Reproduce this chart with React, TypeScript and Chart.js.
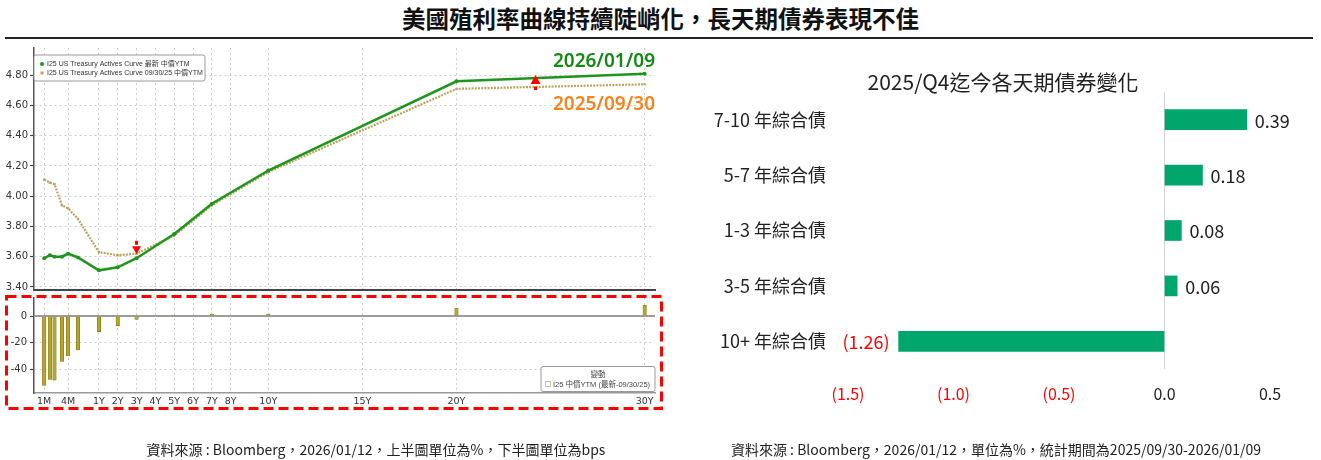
import React, { useEffect, useRef } from "react";
import { Chart, registerables } from "chart.js";

Chart.register(...registerables);

const CJK = '"Noto Sans CJK TC", "Noto Sans", sans-serif';
const BBG = '"DejaVu Sans", "Noto Sans CJK TC", sans-serif';
const LEG = '"Liberation Sans", "Noto Sans CJK TC", sans-serif';
const LATIN = '"Noto Sans", "Noto Sans CJK TC", sans-serif';

// ---------------- data ----------------
const PAGE_TITLE = "美國殖利率曲線持續陡峭化，長天期債券表現不佳";
const LEFT_SOURCE = "資料來源 : Bloomberg，2026/01/12，上半圖單位為%，下半圖單位為bps";
const RIGHT_SOURCE = "資料來源 : Bloomberg，2026/01/12，單位為%，統計期間為2025/09/30-2026/01/09";

const TENOR_LABELS = ["1M", "6W", "2M", "3M", "4M", "6M", "1Y", "2Y", "3Y", "5Y", "7Y", "10Y", "20Y", "30Y"];
const TENOR_YEARS = [1 / 12, 1.5 / 12, 2 / 12, 3 / 12, 4 / 12, 6 / 12, 1, 2, 3, 5, 7, 10, 20, 30];
const CURVE_LATEST = [3.59, 3.61, 3.6, 3.6, 3.62, 3.595, 3.51, 3.53, 3.59, 3.75, 3.95, 4.17, 4.76, 4.81];
const CURVE_0930 = [4.11, 4.09, 4.08, 3.94, 3.92, 3.85, 3.63, 3.61, 3.62, 3.74, 3.94, 4.16, 4.71, 4.74];
const CHANGE_BPS = [-52, -47.5, -48, -34, -30, -25.5, -11.7, -7.2, -2.5, 0.5, 1.5, 1.5, 5.8, 8];

const AXIS_TICK_LABELS = ["1M", "4M", "1Y", "2Y", "3Y", "4Y", "5Y", "6Y", "7Y", "8Y", "10Y", "15Y", "20Y", "30Y"];
const AXIS_TICK_YEARS = [1 / 12, 4 / 12, 1, 2, 3, 4, 5, 6, 7, 8, 10, 15, 20, 30];
const YIELD_TICKS = [3.4, 3.6, 3.8, 4.0, 4.2, 4.4, 4.6, 4.8];
const CHANGE_TICKS = [0, -20, -40];

const LEGEND_TOP = [
  "I25 US Treasury Actives Curve 最新 中價YTM",
  "I25 US Treasury Actives Curve 09/30/25 中價YTM",
];
const LEGEND_BOTTOM = ["變動", "I25 中價YTM (最新-09/30/25)"];
const LATEST_DATE = "2026/01/09";
const PREV_DATE = "2025/09/30";
const ARROW_TENORS = [3, 24.2];
const ARROW_DIRS = ["down", "up"];

const BOND_TITLE = "2025/Q4迄今各天期債券變化";
const BOND_CATS = ["7-10 年綜合債", "5-7 年綜合債", "1-3 年綜合債", "3-5 年綜合債", "10+ 年綜合債"];
const BOND_CHANGE = [0.39, 0.18, 0.08, 0.06, -1.26];
const BOND_TICKS = [-1.5, -1.0, -0.5, 0, 0.5];

// ---------------- styles ----------------
const GREEN = "#1e961e";
const TAN = "#b8a55c";
const BAR_OLIVE = "#b3a62a";
const BOND_GREEN = "#00a66b";

// Bloomberg-style maturity axis: linear in years from 1Y, compressed below 1Y
function warp(t: number): number {
  return t >= 1 ? t : -3.62 + 1.712 * Math.pow(t * 12, 0.4);
}
const X_MIN = -2.45;
const X_MAX = 30.55;

function tenorXScale(showLabels: boolean, borderColor: string, borderWidth: number) {
  return {
    type: "linear",
    min: X_MIN,
    max: X_MAX,
    offset: false,
    afterBuildTicks: (s: any) => {
      s.ticks = AXIS_TICK_YEARS.map((t) => ({ value: warp(t) }));
    },
    afterFit: (s: any) => {
      s.height = showLabels ? 16 : 0;
      s.paddingLeft = 0;
      s.paddingRight = 0;
    },
    ticks: {
      display: showLabels,
      autoSkip: false,
      maxRotation: 0,
      minRotation: 0,
      padding: 3,
      color: "#333",
      font: { family: BBG, size: 9.5 },
      callback: (_v: any, i: number) => AXIS_TICK_LABELS[i],
    },
    grid: { color: "#cdcdcd", lineWidth: 1, drawTicks: false, offset: false },
    border: { display: true, dash: [2, 3], color: borderColor, width: borderWidth },
  };
}

function interpAt(values: number[], t: number): number {
  const u = warp(t);
  for (let i = 0; i < TENOR_YEARS.length - 1; i++) {
    const a = warp(TENOR_YEARS[i]);
    const b = warp(TENOR_YEARS[i + 1]);
    if (u >= a && u <= b) {
      const f = (u - a) / (b - a);
      return values[i] + f * (values[i + 1] - values[i]);
    }
  }
  return values[values.length - 1];
}

function roundRect(ctx: CanvasRenderingContext2D, x: number, y: number, w: number, h: number, r: number) {
  ctx.beginPath();
  ctx.moveTo(x + r, y);
  ctx.lineTo(x + w - r, y);
  ctx.arcTo(x + w, y, x + w, y + r, r);
  ctx.lineTo(x + w, y + h - r);
  ctx.arcTo(x + w, y + h, x + w - r, y + h, r);
  ctx.lineTo(x + r, y + h);
  ctx.arcTo(x, y + h, x, y + h - r, r);
  ctx.lineTo(x, y + r);
  ctx.arcTo(x, y, x + r, y, r);
  ctx.closePath();
}

const curveDecor = {
  id: "curveDecor",
  afterDatasetsDraw(chart: any) {
    const { ctx, chartArea: a, scales } = chart;
    const x = scales.x;
    const y = scales.y;
    ctx.save();

    // legend box
    const lx = a.left;
    const ly = a.top + 7;
    const lw = 171;
    const lh = 26;
    roundRect(ctx, lx, ly, lw, lh, 2);
    ctx.fillStyle = "#ffffff";
    ctx.fill();
    ctx.strokeStyle = "#9a9a9a";
    ctx.lineWidth = 1;
    ctx.stroke();
    ctx.font = `7px ${LEG}`;
    ctx.textBaseline = "middle";
    ctx.textAlign = "left";
    ctx.beginPath();
    ctx.arc(lx + 8, ly + 9, 2, 0, Math.PI * 2);
    ctx.fillStyle = GREEN;
    ctx.fill();
    ctx.fillStyle = TAN;
    ctx.fillRect(lx + 6.5, ly + 16.5, 3, 3);
    ctx.fillStyle = "#333";
    ctx.fillText(LEGEND_TOP[0], lx + 13, ly + 9);
    ctx.fillText(LEGEND_TOP[1], lx + 13, ly + 18);

    // date annotations
    const last = TENOR_YEARS.length - 1;
    const gy = y.getPixelForValue(CURVE_LATEST[last]);
    const ty = y.getPixelForValue(CURVE_0930[last]);
    ctx.font = `600 19px ${LATIN}`;
    ctx.textAlign = "right";
    ctx.textBaseline = "alphabetic";
    ctx.fillStyle = "#138a13";
    ctx.fillText(LATEST_DATE, a.right, gy - 7);
    ctx.textBaseline = "top";
    ctx.fillStyle = "#f5841f";
    ctx.fillText(PREV_DATE, a.right, ty + 11);

    // red arrows
    ctx.fillStyle = "#ff0000";
    ARROW_TENORS.forEach((t, i) => {
      const px = x.getPixelForValue(warp(t));
      const gY = y.getPixelForValue(interpAt(CURVE_LATEST, t));
      if (ARROW_DIRS[i] === "down") {
        const tip = gY - 4;
        ctx.beginPath();
        ctx.moveTo(px, tip);
        ctx.lineTo(px - 4.5, tip - 8);
        ctx.lineTo(px + 4.5, tip - 8);
        ctx.closePath();
        ctx.fill();
        ctx.fillRect(px - 1.5, tip - 13.5, 3, 4);
      } else {
        const tip = gY - 3;
        ctx.beginPath();
        ctx.moveTo(px, tip);
        ctx.lineTo(px - 5, tip + 9);
        ctx.lineTo(px + 5, tip + 9);
        ctx.closePath();
        ctx.fill();
        ctx.fillRect(px - 1.5, tip + 11.5, 3, 3.5);
      }
    });
    ctx.restore();
  },
};

const changeDecor = {
  id: "changeDecor",
  beforeDatasetsDraw(chart: any) {
    const { ctx, chartArea: a, scales } = chart;
    const y0 = scales.y.getPixelForValue(0);
    ctx.save();
    ctx.strokeStyle = "#9c9c9c";
    ctx.lineWidth = 2;
    ctx.beginPath();
    ctx.moveTo(a.left, y0);
    ctx.lineTo(a.right, y0);
    ctx.stroke();
    ctx.restore();
  },
  afterDraw(chart: any) {
    const { ctx, chartArea: a } = chart;
    const w = 114;
    const h = 25;
    const bx = a.right - w;
    const by = a.bottom - h - 1.5;
    ctx.save();
    roundRect(ctx, bx, by, w, h, 2);
    ctx.fillStyle = "#ffffff";
    ctx.fill();
    ctx.strokeStyle = "#9a9a9a";
    ctx.lineWidth = 1;
    ctx.stroke();
    ctx.font = `7.5px ${LEG}`;
    ctx.fillStyle = "#444";
    ctx.textBaseline = "middle";
    ctx.textAlign = "center";
    ctx.fillText(LEGEND_BOTTOM[0], bx + w / 2, by + 8);
    ctx.strokeStyle = "#b9b28a";
    ctx.lineWidth = 0.8;
    ctx.strokeRect(bx + 4.5, by + 15, 5, 5);
    ctx.textAlign = "left";
    ctx.fillText(LEGEND_BOTTOM[1], bx + 12, by + 18);
    ctx.restore();
  },
};

const bondLabels = {
  id: "bondLabels",
  afterDatasetsDraw(chart: any) {
    const { ctx } = chart;
    const meta = chart.getDatasetMeta(0);
    ctx.save();
    ctx.font = `18px ${CJK}`;
    ctx.textBaseline = "middle";
    meta.data.forEach((bar: any, i: number) => {
      const v = BOND_CHANGE[i];
      if (v >= 0) {
        ctx.fillStyle = "#222";
        ctx.textAlign = "left";
        ctx.fillText(v.toFixed(2), bar.x + 8, bar.y + 1);
      } else {
        ctx.fillStyle = "#ff0000";
        ctx.textAlign = "right";
        ctx.fillText(`(${Math.abs(v).toFixed(2)})`, bar.x - 9, bar.y + 1);
      }
    });
    ctx.restore();
  },
};

function TopCurve() {
  const ref = useRef<HTMLCanvasElement>(null);
  useEffect(() => {
    if (!ref.current) return;
    const chart = new Chart(ref.current, {
      type: "line",
      data: {
        datasets: [
          {
            label: LEGEND_TOP[0],
            data: CURVE_LATEST.map((v, i) => ({ x: warp(TENOR_YEARS[i]), y: v })),
            borderColor: GREEN,
            backgroundColor: GREEN,
            borderWidth: 2.5,
            pointRadius: 2,
            pointBorderWidth: 0,
            tension: 0,
          },
          {
            label: LEGEND_TOP[1],
            data: CURVE_0930.map((v, i) => ({ x: warp(TENOR_YEARS[i]), y: v })),
            borderColor: TAN,
            backgroundColor: TAN,
            borderWidth: 2.2,
            borderDash: [2, 1.2],
            pointStyle: "rect",
            pointRadius: 1.6,
            pointBorderWidth: 0,
            tension: 0,
          },
        ],
      },
      options: {
        responsive: false,
        animation: false,
        layout: { padding: { top: 1, right: 7, left: 0, bottom: 0 } },
        plugins: { legend: { display: false }, tooltip: { enabled: false } },
        scales: {
          x: tenorXScale(false, "#444", 2) as any,
          y: {
            min: 3.38,
            max: 4.98,
            afterBuildTicks: (s: any) => {
              s.ticks = YIELD_TICKS.map((v) => ({ value: v }));
            },
            afterFit: (s: any) => {
              s.width = 34;
              s.paddingTop = 0;
              s.paddingBottom = 0;
            },
            ticks: {
              padding: 2,
              color: "#333",
              font: { family: BBG, size: 10 },
              callback: (v: any) => Number(v).toFixed(2),
            },
            grid: { color: "#cdcdcd", tickColor: "#444", tickLength: 4, tickWidth: 1.2 },
            border: { dash: [2, 3], color: "#555", width: 1.5 },
          },
        },
      },
      plugins: [curveDecor],
    } as any);
    return () => chart.destroy();
  }, []);
  return <canvas ref={ref} width={662} height={250} style={{ position: "absolute", left: 0, top: 44 }} />;
}

function BottomChange() {
  const ref = useRef<HTMLCanvasElement>(null);
  useEffect(() => {
    if (!ref.current) return;
    const chart = new Chart(ref.current, {
      type: "bar",
      data: {
        datasets: [
          {
            label: LEGEND_BOTTOM[1],
            data: CHANGE_BPS.map((v, i) => ({ x: warp(TENOR_YEARS[i]), y: v })),
            backgroundColor: BAR_OLIVE,
            borderColor: "#7a7418",
            borderWidth: 0.6,
            barThickness: 3.5,
          },
        ],
      },
      options: {
        responsive: false,
        animation: false,
        layout: { padding: { top: 2, right: 7, left: 0, bottom: 0 } },
        plugins: { legend: { display: false }, tooltip: { enabled: false } },
        scales: {
          x: tenorXScale(true, "#999", 1.5) as any,
          y: {
            min: -57.7,
            max: 13.5,
            afterBuildTicks: (s: any) => {
              s.ticks = CHANGE_TICKS.map((v) => ({ value: v }));
            },
            afterFit: (s: any) => {
              s.width = 34;
              s.paddingTop = 0;
              s.paddingBottom = 0;
            },
            ticks: {
              padding: 3,
              color: "#333",
              font: { family: BBG, size: 10 },
              callback: (v: any) => String(v),
            },
            grid: { color: "#cdcdcd", tickColor: "#444", tickLength: 4, tickWidth: 1.2 },
            border: { dash: [2, 3], color: "#555", width: 1.5 },
          },
        },
      },
      plugins: [changeDecor],
    } as any);
    return () => chart.destroy();
  }, []);
  return <canvas ref={ref} width={662} height={113} style={{ position: "absolute", left: 0, top: 296 }} />;
}

function BondBars() {
  const ref = useRef<HTMLCanvasElement>(null);
  useEffect(() => {
    if (!ref.current) return;
    const chart = new Chart(ref.current, {
      type: "bar",
      data: {
        labels: BOND_CATS,
        datasets: [
          {
            label: BOND_TITLE,
            data: BOND_CHANGE,
            backgroundColor: BOND_GREEN,
            barThickness: 20,
          },
        ],
      },
      options: {
        indexAxis: "y",
        responsive: false,
        animation: false,
        layout: { padding: { top: 12, right: 51, left: 0, bottom: 0 } },
        plugins: { legend: { display: false }, tooltip: { enabled: false } },
        scales: {
          x: {
            min: -1.5,
            max: 0.5,
            afterBuildTicks: (s: any) => {
              s.ticks = BOND_TICKS.map((v) => ({ value: v }));
            },
            afterFit: (s: any) => {
              s.height = 41;
            },
            ticks: {
              autoSkip: false,
              maxRotation: 0,
              padding: 15,
              font: { family: CJK, size: 16 },
              color: (c: any) => (c.tick && c.tick.value < 0 ? "#ff0000" : "#222"),
              callback: (v: any) => {
                const n = Number(v);
                return n < 0 ? `(${Math.abs(n).toFixed(1)})` : n.toFixed(1);
              },
            },
            grid: {
              drawTicks: false,
              lineWidth: 1,
              color: (c: any) => (c.tick && c.tick.value === 0 ? "#d4d4d4" : "rgba(0,0,0,0)"),
            },
            border: { display: false },
          },
          y: {
            afterFit: (s: any) => {
              s.width = 168;
              s.paddingTop = 0;
              s.paddingBottom = 0;
            },
            ticks: { padding: 22, color: "#222", font: { family: CJK, size: 18 } },
            grid: { display: false, drawTicks: false },
            border: { display: false },
          },
        },
      },
      plugins: [bondLabels],
    } as any);
    return () => chart.destroy();
  }, []);
  return <canvas ref={ref} width={641} height={330} style={{ position: "absolute", left: 680, top: 80 }} />;
}

export default function App() {
  return (
    <div
      style={{
        position: "fixed",
        left: 0,
        top: 0,
        width: 1321,
        height: 460,
        background: "#fff",
        overflow: "hidden",
        fontFamily: CJK,
        color: "#222",
      }}
    >
      <div
        style={{
          position: "absolute",
          left: 0,
          top: 4,
          width: 1321,
          textAlign: "center",
          fontSize: 23.5,
          fontWeight: 700,
          lineHeight: "28px",
          color: "#111",
          whiteSpace: "nowrap",
        }}
      >
        {PAGE_TITLE}
      </div>
      <div style={{ position: "absolute", left: 5, top: 37, width: 1308, height: 2, background: "#222" }} />
      <TopCurve />
      <BottomChange />
      <svg width={1321} height={460} style={{ position: "absolute", left: 0, top: 0, pointerEvents: "none" }}>
        <rect x={6.5} y={296.5} width={655} height={112} fill="none" stroke="#ff0000" strokeWidth={3} strokeDasharray="10 5" />
      </svg>
      <div
        style={{
          position: "absolute",
          left: 700,
          top: 71,
          width: 606,
          textAlign: "center",
          fontSize: 21,
          lineHeight: "21px",
          color: "#222",
          whiteSpace: "nowrap",
        }}
      >
        {BOND_TITLE}
      </div>
      <BondBars />
      <div
        style={{
          position: "absolute",
          left: 76,
          top: 440,
          width: 600,
          textAlign: "center",
          fontSize: 14,
          lineHeight: "18px",
          whiteSpace: "nowrap",
        }}
      >
        {LEFT_SOURCE}
      </div>
      <div
        style={{
          position: "absolute",
          left: 696,
          top: 440,
          width: 600,
          textAlign: "center",
          fontSize: 14,
          lineHeight: "18px",
          whiteSpace: "nowrap",
        }}
      >
        {RIGHT_SOURCE}
      </div>
    </div>
  );
}
